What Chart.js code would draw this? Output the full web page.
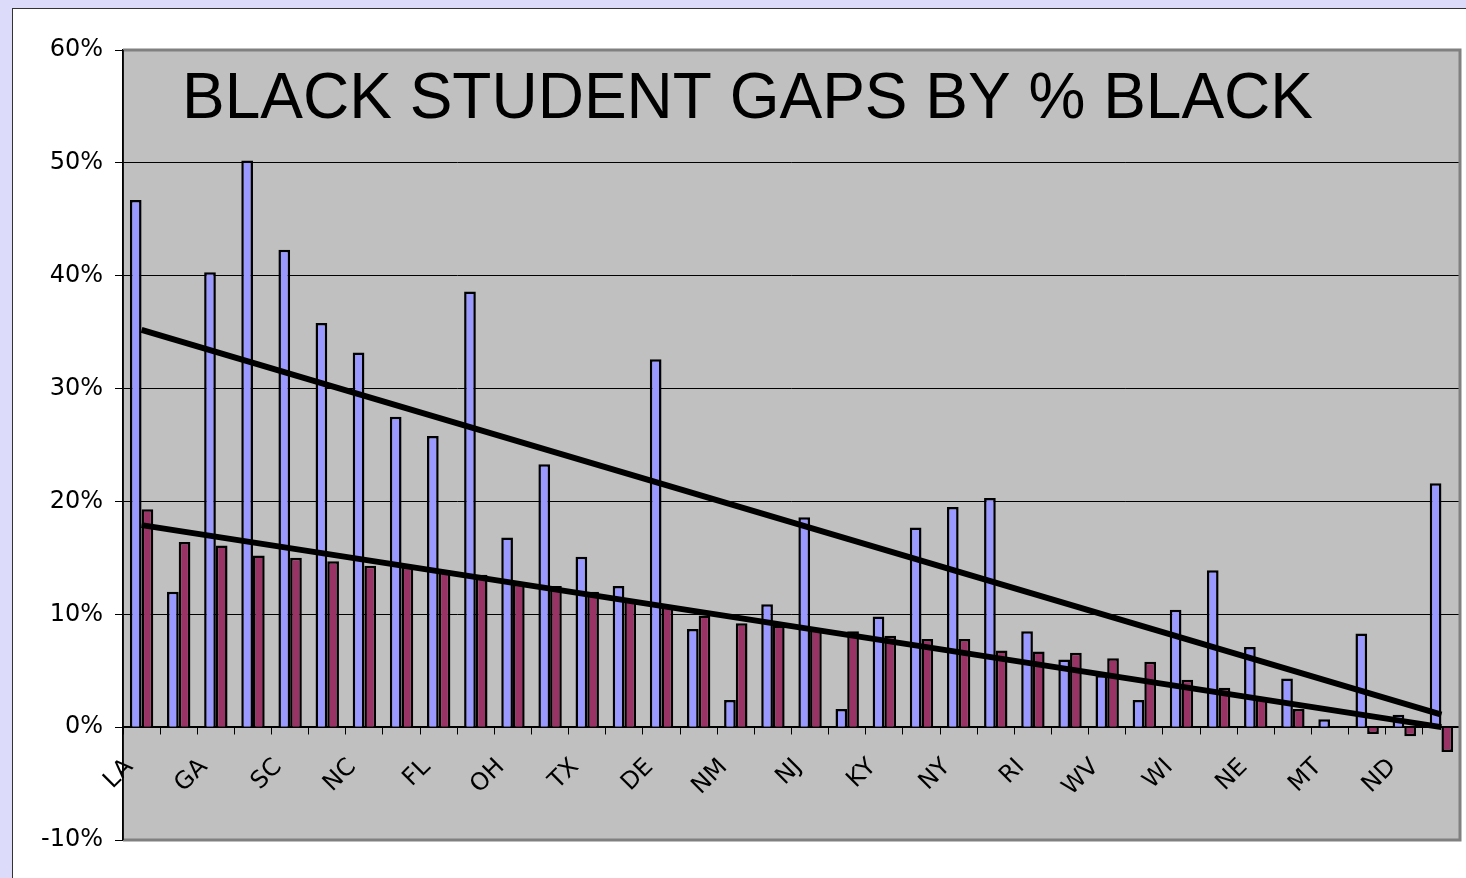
<!DOCTYPE html>
<html>
<head>
<meta charset="utf-8">
<title>Black student gaps by % black</title>
<script src="https://cdn.jsdelivr.net/npm/chart.js@4.4.1/dist/chart.umd.min.js"></script>
<style>
    html, body {
        margin: 0;
        padding: 0;
        width: 1466px;
        height: 878px;
        overflow: hidden;
        background: #dcdcfa;
    }
    #box {
        position: absolute;
        left: 12px;
        top: 8px;
        width: 1480px;
        height: 900px;
        background: #ffffff;
        border: 1px solid #333333;
    }
</style>
</head>
<body>
<div id="box"><canvas id="gapChart"></canvas></div>
<script>
// States in order; only every other one is labelled on the axis
var categories = ['LA', '', 'GA', '', 'SC', '', 'NC', '', 'FL', '', 'OH', '', 'TX', '', 'DE', '',
    'NM', '', 'NJ', '', 'KY', '', 'NY', '', 'RI', '', 'WV', '', 'WI', '', 'NE', '', 'MT', '', 'ND', ''];

// blue bars: black student gap (%)
var gapValues = [46.7, 12.0, 40.3, 50.2, 42.3, 35.8, 33.2, 27.5, 25.8, 38.6, 16.8, 23.3,
    15.1, 12.5, 32.6, 8.7, 2.4, 10.9, 18.6, 1.6, 9.8, 17.7, 19.5, 20.3,
    8.5, 6.0, 4.6, 2.4, 10.4, 13.9, 7.1, 4.3, 0.7, 8.3, 1.1, 21.6];

// maroon bars: % black
var blackValues = [19.3, 16.4, 16.1, 15.2, 15.0, 14.7, 14.3, 14.2, 13.9, 13.5, 12.7, 12.5,
    12.0, 11.3, 10.7, 9.9, 9.2, 9.0, 8.7, 8.5, 8.1, 7.8, 7.8, 6.8,
    6.7, 6.6, 6.1, 5.8, 4.2, 3.5, 2.5, 1.6, 0, -0.6, -0.8, -2.2];

// trend line end points (first and last category)
var gapTrend = [35.2, 1.1];
var blackTrend = [17.9, 0.0];

var yTicks = [-10, 0, 10, 20, 30, 40, 50, 60];

var lastIdx = categories.length - 1;

// a line that only has its two end points set, gaps spanned
function trendData(ends) {
    return categories.map(function (c, i) {
        if (i === 0) return ends[0];
        if (i === lastIdx) return ends[1];
        return null;
    });
}

// grey plot area, its border and the title written inside it
var plotAreaPlugin = {
    id: 'plotArea',
    beforeDraw: function (chart) {
        var a = chart.chartArea, ctx = chart.ctx;
        ctx.save();
        ctx.fillStyle = '#c0c0c0';
        ctx.fillRect(a.left, a.top, a.right - a.left, a.bottom - a.top);
        ctx.restore();
    },
    beforeDatasetsDraw: function (chart) {
        var a = chart.chartArea, ctx = chart.ctx;
        ctx.save();
        ctx.fillStyle = '#000000';
        ctx.font = '64px "Liberation Sans", Arial, sans-serif';
        ctx.textAlign = 'left';
        ctx.textBaseline = 'alphabetic';
        ctx.fillText('BLACK STUDENT GAPS BY % BLACK', a.left + 59, a.top + 68);
        ctx.restore();
    },
    afterDraw: function (chart) {
        var a = chart.chartArea, ctx = chart.ctx;
        ctx.save();
        ctx.strokeStyle = '#808080';
        ctx.lineWidth = 3;
        ctx.beginPath();
        ctx.moveTo(a.left, a.top);
        ctx.lineTo(a.right, a.top);
        ctx.lineTo(a.right, a.bottom);
        ctx.lineTo(a.left, a.bottom);
        ctx.stroke();
        ctx.strokeStyle = '#000000';
        ctx.lineWidth = 1.5;
        ctx.beginPath();
        ctx.moveTo(a.left, a.top);
        ctx.lineTo(a.left, a.bottom);
        ctx.stroke();
        ctx.restore();
    }
};

var ctx = document.getElementById('gapChart').getContext('2d');
new Chart(ctx, {
    data: {
        labels: categories,
        datasets: [{
            type: 'line',
            label: 'Gap trend',
            data: trendData(gapTrend),
            spanGaps: true,
            borderColor: '#000000',
            borderWidth: 6,
            pointRadius: 0,
            order: 0
        }, {
            type: 'line',
            label: '% black trend',
            data: trendData(blackTrend),
            spanGaps: true,
            borderColor: '#000000',
            borderWidth: 6,
            pointRadius: 0,
            order: 0
        }, {
            type: 'bar',
            label: 'Gap',
            data: gapValues,
            backgroundColor: '#9999ff',
            borderColor: '#000000',
            borderWidth: 2.5,
            categoryPercentage: 0.63,
            barPercentage: 1.0,
            order: 1
        }, {
            type: 'bar',
            label: '% Black',
            data: blackValues,
            backgroundColor: '#993366',
            borderColor: '#000000',
            borderWidth: 2.5,
            categoryPercentage: 0.63,
            barPercentage: 1.0,
            order: 1
        }]
    },
    options: {
        responsive: true,
        maintainAspectRatio: false,
        animation: false,
        layout: {
            padding: {top: 41, right: 33, bottom: 69, left: 0}
        },
        plugins: {
            legend: {display: false},
            tooltip: {enabled: false}
        },
        scales: {
            x: {
                type: 'category',
                position: {y: 0},
                offset: true,
                grid: {
                    display: true,
                    offset: true,
                    drawOnChartArea: false,
                    drawTicks: true,
                    tickLength: 7,
                    color: '#000000',
                    lineWidth: 1
                },
                border: {display: true, color: '#000000', width: 1.5},
                ticks: {
                    autoSkip: false,
                    maxRotation: 45,
                    minRotation: 45,
                    padding: 19,
                    labelOffset: -12,
                    color: '#000000',
                    font: {family: '"DejaVu Sans", Verdana, sans-serif', size: 24}
                }
            },
            y: {
                min: -10,
                max: 60,
                afterFit: function (scale) {
                    scale.width = 110;
                },
                afterBuildTicks: function (scale) {
                    scale.ticks = yTicks.map(function (v) { return {value: v}; });
                },
                grid: {
                    color: '#000000',
                    lineWidth: 1,
                    tickLength: 8
                },
                border: {display: true, color: '#000000', width: 1.5},
                ticks: {
                    padding: 12,
                    color: '#000000',
                    font: {family: '"DejaVu Sans", Verdana, sans-serif', size: 24},
                    callback: function (v) { return v + '%'; }
                }
            }
        }
    },
    plugins: [plotAreaPlugin]
});
</script>
</body>
</html>
